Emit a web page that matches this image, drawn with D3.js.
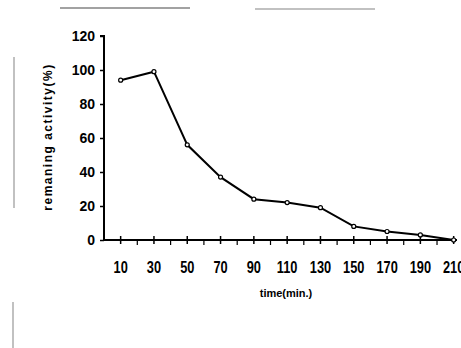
<!DOCTYPE html>
<html>
<head>
<meta charset="utf-8">
<script src="https://cdn.jsdelivr.net/npm/d3@7"></script>
<style>
  body { margin: 0; background: #fff; }
  text { font-family: "Liberation Sans", Arial, sans-serif; font-weight: bold; fill: #000; }
</style>
</head>
<body>
<div id="chart"></div>
<script>
// Data
const times = [10, 30, 50, 70, 90, 110, 130, 150, 170, 190, 210];
const activity = [94, 99, 56, 37, 24, 22, 19, 8, 5, 3, 0];
const yTicks = [0, 20, 40, 60, 80, 100, 120];
const xMajor = [10, 30, 50, 70, 90, 110, 130, 150, 170, 190, 210];
const xMinor = [20, 40, 60, 80, 100, 120, 140, 160, 180, 200];

const W = 461, H = 348;

const svg = d3.select("#chart").append("svg")
  .attr("width", W)
  .attr("height", H);

// Scales
const x = d3.scaleLinear().domain([0, 212]).range([104, 457]);
const y = d3.scaleLinear().domain([0, 120]).range([240, 36]);

// scan artifacts
const art = svg.append("g").attr("stroke", "#333").attr("stroke-width", 1).attr("opacity", 0.6);
art.append("line").attr("x1", 60).attr("x2", 190).attr("y1", 8).attr("y2", 8).attr("stroke-width", 1.5);
art.append("line").attr("x1", 255).attr("x2", 375).attr("y1", 9).attr("y2", 9);
art.append("line").attr("x1", 14).attr("x2", 14).attr("y1", 57).attr("y2", 208);
art.append("line").attr("x1", 13).attr("x2", 13).attr("y1", 302).attr("y2", 348).attr("opacity", 1);

// Y axis
const yAxis = d3.axisLeft(y).tickValues(yTicks).tickSize(4).tickPadding(5);
const gy = svg.append("g")
  .attr("transform", `translate(${x(0)},0)`)
  .call(yAxis);
gy.select(".domain").attr("stroke-width", 2).attr("d", `M-4,${y(120)}H0V${y(0)}`);
gy.selectAll(".tick line").attr("stroke-width", 1.5);
gy.selectAll(".tick text").attr("font-size", 14).attr("font-weight", "bold");

// X axis (major ticks cross the line, minor ticks below)
const gx = svg.append("g").attr("transform", `translate(0,${y(0)})`);
gx.append("line")
  .attr("x1", x(0)).attr("x2", x(212))
  .attr("stroke", "#000").attr("stroke-width", 2);
gx.selectAll(".major")
  .data(xMajor)
  .join("line")
  .attr("class", "major")
  .attr("x1", d => x(d)).attr("x2", d => x(d))
  .attr("y1", -4).attr("y2", 4)
  .attr("stroke", "#000").attr("stroke-width", 1.5);
gx.selectAll(".minor")
  .data(xMinor)
  .join("line")
  .attr("class", "minor")
  .attr("x1", d => x(d)).attr("x2", d => x(d))
  .attr("y1", 0).attr("y2", 5)
  .attr("stroke", "#000").attr("stroke-width", 1.2);
// condensed look of the scanned labels
gx.selectAll(".lbl")
  .data(xMajor)
  .join("text")
  .attr("class", "lbl")
  .attr("transform", d => `translate(${x(d)},33) scale(0.8,1)`)
  .attr("text-anchor", "middle")
  .attr("font-size", 16)
  .text(d => d);

// Axis titles
svg.append("text")
  .attr("transform", "translate(52,137) rotate(-90)")
  .attr("text-anchor", "middle")
  .attr("font-size", 12)
  .attr("letter-spacing", 1.5)
  .text("remaning activity(%)");

svg.append("text")
  .attr("x", 286)
  .attr("y", 297)
  .attr("text-anchor", "middle")
  .attr("font-size", 11)
  .text("time(min.)");

// Line
const line = d3.line()
  .x((d, i) => x(times[i]))
  .y(d => y(d));

svg.append("path")
  .datum(activity)
  .attr("fill", "none")
  .attr("stroke", "#000")
  .attr("stroke-width", 2)
  .attr("d", line);

// Markers
svg.selectAll(".pt")
  .data(activity)
  .join("circle")
  .attr("class", "pt")
  .attr("cx", (d, i) => x(times[i]))
  .attr("cy", d => y(d))
  .attr("r", 2)
  .attr("fill", "#fff")
  .attr("stroke", "#000")
  .attr("stroke-width", 1.2);
</script>
</body>
</html>
